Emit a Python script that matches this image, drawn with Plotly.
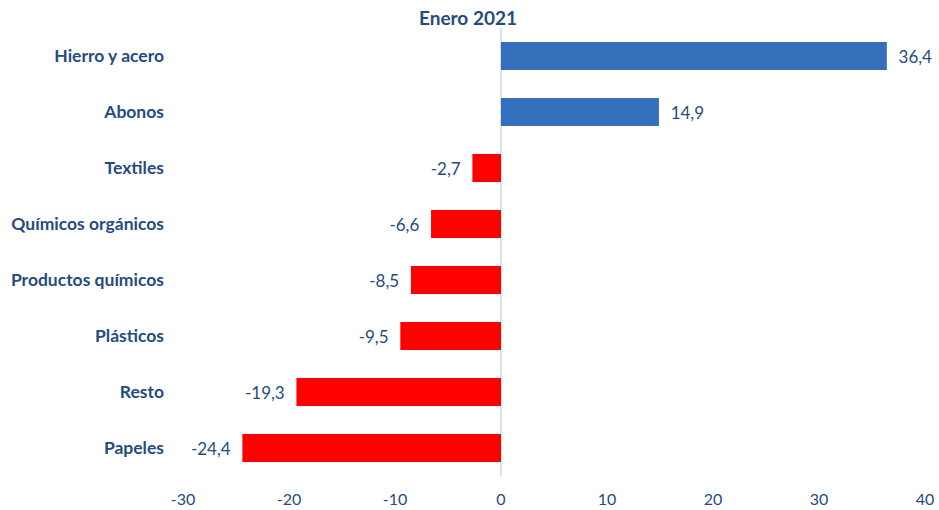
import plotly.graph_objects as go

categories = ["Hierro y acero", "Abonos", "Textiles", "Químicos orgánicos",
              "Productos químicos", "Plásticos", "Resto", "Papeles"]
values = [36.4, 14.9, -2.7, -6.6, -8.5, -9.5, -19.3, -24.4]
tick_vals = [-30, -20, -10, 0, 10, 20, 30, 40]
tick_text = ["-30", "-20", "-10", "0", "10", "20", "30", "40"]

text_color = "#264B7E"
colors = ["#356FBC" if v >= 0 else "#FF0000" for v in values]
labels = [("  " + f"{v:.1f}".replace(".", ",")) if v >= 0
          else (f"{v:.1f}".replace(".", ",") + "  ") for v in values]

fig = go.Figure(go.Bar(
    x=values, y=categories, orientation="h",
    marker=dict(color=colors, line=dict(width=0)),
    width=0.5,
    text=labels, textposition="outside", cliponaxis=False,
    textfont=dict(color=text_color, size=17, family="Lato"),
))

fig.update_layout(
    width=939, height=510,
    margin=dict(l=183, r=14, t=28, b=34, autoexpand=False),
    plot_bgcolor="white", paper_bgcolor="white",
    font=dict(family="Lato", color=text_color, size=16),
    title=dict(text="<b>Enero 2021</b>", x=468 / 939, xanchor="center",
               y=1 - 18 / 510, yanchor="middle",
               font=dict(size=19, color=text_color, family="Lato")),
    showlegend=False,
)
fig.update_xaxes(range=[-30, 40], tickvals=tick_vals, ticktext=tick_text,
                 showgrid=False, automargin=False,
                 zeroline=True, zerolinecolor="#D6E0F0", zerolinewidth=2,
                 showline=False, ticks="", ticklabelstandoff=12,
                 tickfont=dict(size=16, color=text_color))
fig.update_yaxes(categoryorder="array", categoryarray=categories[::-1],
                 showgrid=False, showline=False, ticks="", automargin=False,
                 ticklabelstandoff=18,
                 tickfont=dict(size=17.5, color=text_color, family="Lato"),
                 tickprefix="<b>", ticksuffix="</b>")

fig.write_html("out.html",
               config={"displayModeBar": False},
               post_script="document.body.style.margin='0';"
                           "document.body.style.overflow='hidden';")
